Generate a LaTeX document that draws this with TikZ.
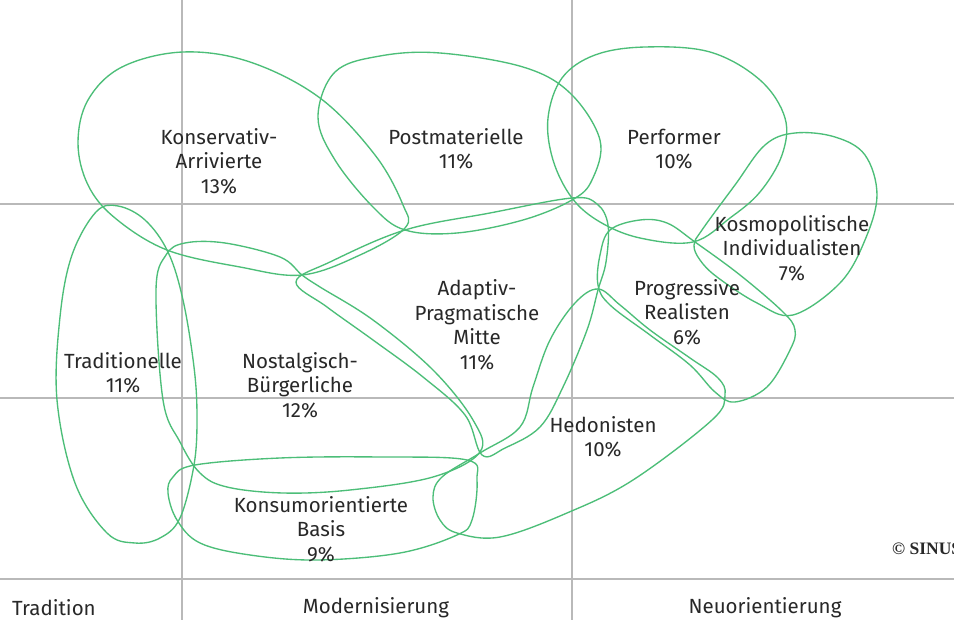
\documentclass[tikz,border=0pt]{standalone}
\usepackage{fontspec}
\setmainfont{Fira Sans}
\newfontfamily\sinusfont{Liberation Serif}
\definecolor{blobgreen}{RGB}{76,190,120}
\definecolor{gridgray}{RGB}{185,185,185}
\definecolor{txtgray}{RGB}{40,40,40}
\begin{document}
\begin{tikzpicture}[x=1pt,y=-1pt,
  blob/.style={draw=blobgreen,line width=1.35pt},
  gridline/.style={draw=gridgray,line width=1.3pt},
  lbl/.style={text=txtgray,font=\fontsize{20.5}{24.5}\selectfont,align=center,inner sep=0pt},
  axis/.style={text=txtgray,font=\fontsize{20.5}{24.5}\selectfont,inner sep=0pt}]
\useasboundingbox (0,0) rectangle (954,620);
\clip (0,0) rectangle (954,620);
\fill[white] (0,0) rectangle (954,620);
% grid
\coordinate (v1t) at (182,0); \coordinate (v1b) at (182,620);
\coordinate (v2t) at (572,0); \coordinate (v2b) at (572,620);
\coordinate (h1l) at (0,204); \coordinate (h1r) at (954,204);
\coordinate (h2l) at (0,398); \coordinate (h2r) at (954,398);
\coordinate (h3l) at (0,579); \coordinate (h3r) at (954,579);
\draw[gridline] (v1t) -- (v1b);
\draw[gridline] (v2t) -- (v2b);
\draw[gridline] (h1l) -- (h1r);
\draw[gridline] (h2l) -- (h2r);
\draw[gridline] (h3l) -- (h3r);
% Konservativ-Arrivierte
\draw[blob] plot[smooth cycle,tension=0.6] coordinates {(183,52) (250,62) (320,98) (375,155) (403,205) (405,228) (360,255) (302,275) (240,267) (167,250) (115,218) (88,185) (78,143) (88,100) (122,67)};
% Postmaterielle
\draw[blob] plot[smooth cycle,tension=0.6] coordinates {(440,53) (523,67) (570,93) (600,140) (592,180) (572,200) (523,220) (457,233) (405,230) (373,207) (335,160) (318,117) (335,72) (380,56)};
% Performer
\draw[blob] plot[smooth cycle,tension=0.6] coordinates {(645,47) (710,52) (760,80) (785,118) (782,155) (760,192) (730,218) (693,242) (640,238) (600,222) (572,198) (553,160) (548,118) (562,78) (595,55)};
% Kosmopolitische Individualisten
\draw[blob] plot[smooth cycle,tension=0.6] coordinates {(795,133) (835,137) (865,155) (877,195) (865,240) (840,283) (793,315) (757,303) (717,277) (700,260) (694,245) (702,230) (735,185) (765,145)};
% Progressive Realisten
\draw[blob] plot[smooth cycle,tension=0.6] coordinates {(610,230) (640,220) (667,223) (695,242) (740,275) (783,312) (795,330) (790,350) (767,387) (735,402) (715,392) (690,365) (650,335) (610,305) (598,285) (600,255)};
% Hedonisten
\draw[blob] plot[smooth cycle,tension=0.6] coordinates {(598,289) (620,305) (650,330) (690,358) (718,378) (725,395) (712,420) (633,480) (567,513) (500,537) (457,533) (440,520) (433,497) (442,477) (480,453) (520,427) (533,387) (550,340) (575,303)};
% Adaptiv-Pragmatische Mitte
\draw[blob] plot[smooth cycle,tension=0.6] coordinates {(296,282) (330,262) (405,230) (490,213) (572,198) (597,204) (608,225) (606,262) (598,290) (587,330) (563,387) (540,427) (505,448) (482,455) (465,415) (423,377) (373,340) (327,307)};
% Nostalgisch-Buergerliche
\draw[blob] plot[smooth cycle,tension=0.6] coordinates {(156,290) (166,255) (185,243) (225,243) (280,257) (302,275) (320,287) (373,320) (433,370) (473,420) (480,452) (433,477) (350,490) (283,493) (227,487) (200,473) (180,442) (163,400)};
% Traditionelle
\draw[blob] plot[smooth cycle,tension=0.6] coordinates {(96,212) (118,206) (145,220) (168,252) (183,300) (194,367) (197,417) (194,465) (180,518) (160,538) (135,543) (107,533) (75,483) (57,400) (60,317) (72,255)};
% Konsumorientierte Basis
\draw[blob] plot[smooth cycle,tension=0.6] coordinates {(195,465) (280,458) (380,457) (467,460) (477,480) (472,520) (457,535) (400,553) (317,560) (250,555) (200,543) (177,520) (168,493) (173,477)};
% labels
\node[lbl] (tKA) at (219,161) {Konservativ-\\Arrivierte\\13\%};
\node[lbl] (tPM) at (456,149) {Postmaterielle\\11\%};
\node[lbl] (tPF) at (674,149) {Performer\\10\%};
\node[lbl] (tKI) at (792,248) {Kosmopolitische\\Individualisten\\7\%};
\node[lbl] (tPR) at (687,312) {Progressive\\Realisten\\6\%};
\node[lbl] (tAPM) at (477,325) {Adaptiv-\\Pragmatische\\Mitte\\11\%};
\node[lbl] (tTR) at (123,373) {Traditionelle\\11\%};
\node[lbl] (tNB) at (300,385) {Nostalgisch-\\Bürgerliche\\12\%};
\node[lbl] (tHD) at (603,437) {Hedonisten\\10\%};
\node[lbl] (tKB) at (321,529) {Konsumorientierte\\Basis\\9\%};
\node[axis,anchor=west] (aT) at (12,608) {Tradition};
\node[axis] (aM) at (376,608) {Modernisierung};
\node[axis] (aN) at (765,608) {Neuorientierung};
\node[anchor=west,inner sep=0pt,text=txtgray,font=\sinusfont\bfseries\fontsize{17.5}{20}\selectfont] (sinus) at (892,549) {© SINUS};
\end{tikzpicture}
\end{document}
